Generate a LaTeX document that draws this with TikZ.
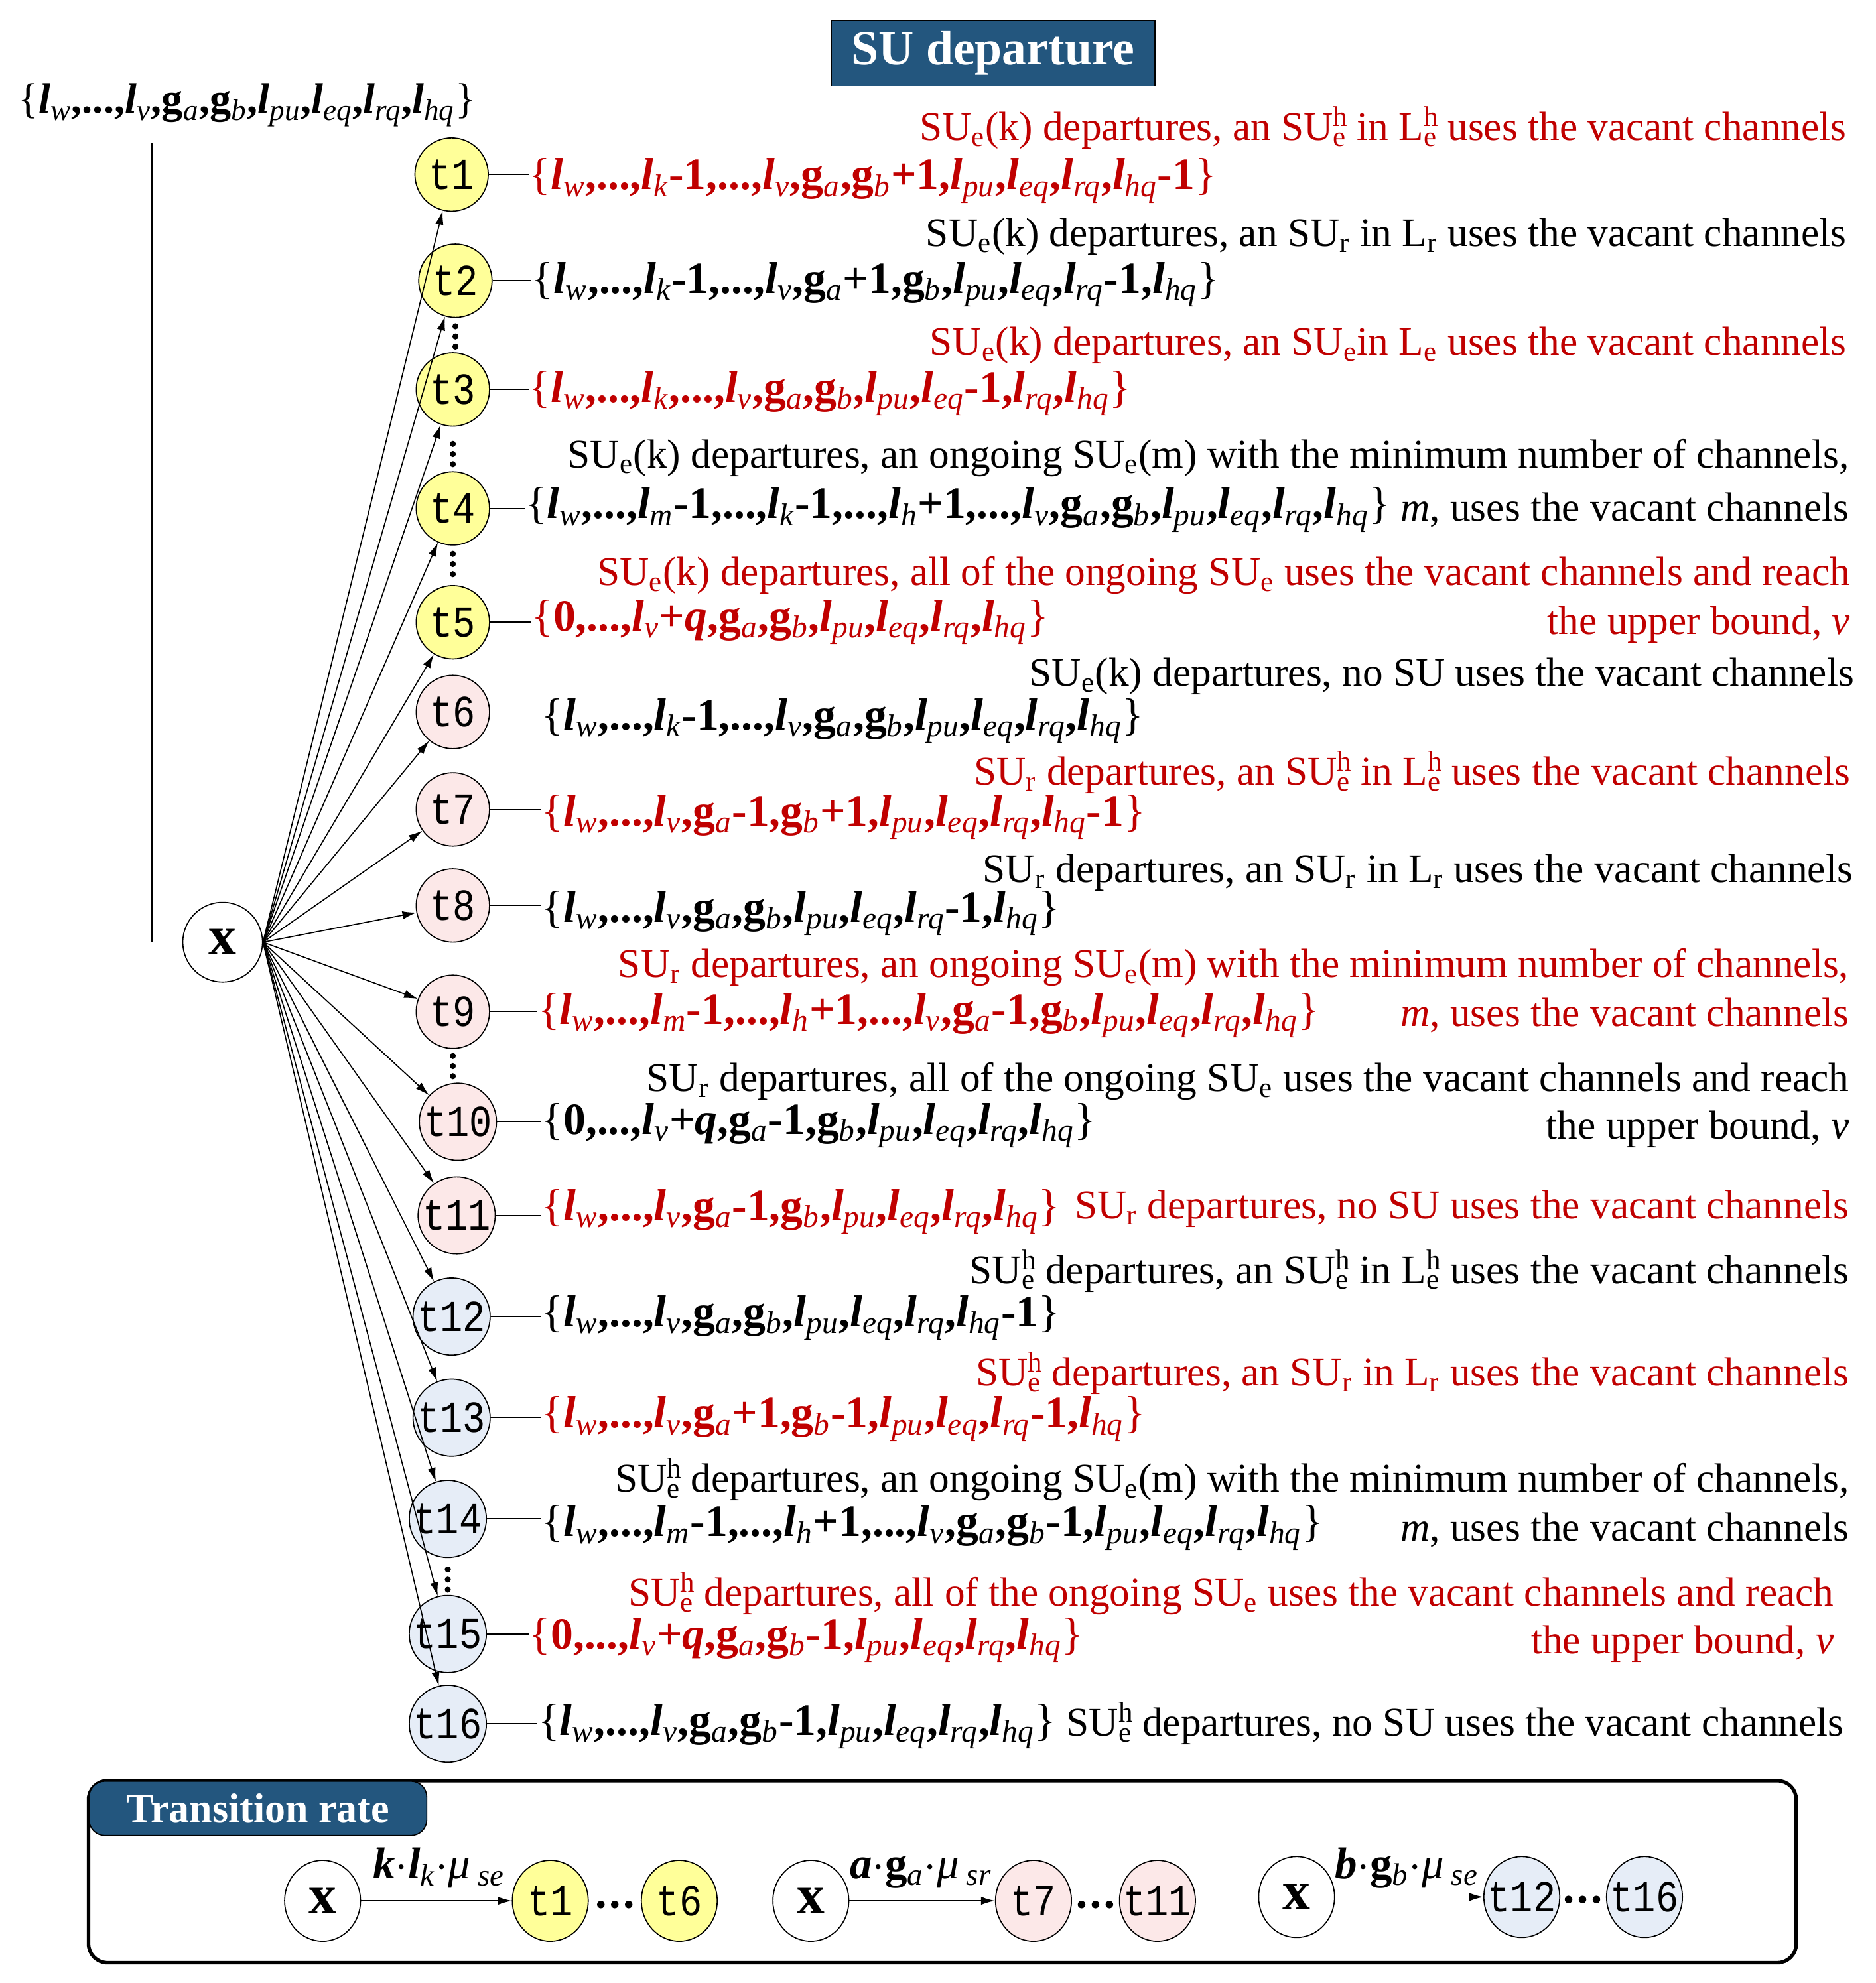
\documentclass[tikz,border=0pt]{standalone}
\usepackage{fontspec}
\setmainfont{Liberation Serif}
\newfontfamily\tfont[FakeStretch=0.85]{Liberation Mono}
\usetikzlibrary{arrows.meta,shapes.geometric}
\definecolor{dred}{RGB}{192,0,0}
\definecolor{tyel}{RGB}{255,255,153}
\definecolor{tpink}{RGB}{252,232,232}
\definecolor{tblue}{RGB}{230,237,247}
\definecolor{hblue}{RGB}{35,86,126}
\newcommand\sbs[1]{\textsubscript{\normalfont\itshape #1}}
\newcommand\Ls[1]{\textit{l}\sbs{#1}}
\newcommand\Gs[1]{g\sbs{#1}}
\newcommand\LB{{\mdseries\{}}
\newcommand\RB{{\mdseries\}}}
\newcommand\Sub[1]{\textsubscript{#1}}
\newcommand\SH{\makebox[0pt][l]{\textsuperscript{h}}\textsubscript{e}}
\newcommand\zb[1]{\makebox[0pt]{#1}}
\tikzset{
  tn/.style={circle,draw=black,line width=0.5pt,inner sep=0pt,minimum size=1.16cm,font=\tfont\fontsize{20}{20}\selectfont},
  tw/.style={tn,minimum size=1.22cm},
  yl/.style={fill=tyel},
  pk/.style={fill=tpink},
  bl/.style={fill=tblue},
  xn/.style={circle,draw=black,line width=0.5pt,inner sep=0pt,minimum size=1.26cm,font=\bfseries\fontsize{25}{25}\selectfont},
  be/.style={ellipse,draw=black,line width=0.5pt,inner sep=0pt,minimum width=1.2cm,minimum height=1.28cm,font=\tfont\fontsize{20}{20}\selectfont},
  bx/.style={be,font=\bfseries\fontsize{25}{25}\selectfont},
  desc/.style={anchor=east,inner sep=0pt,font=\fontsize{18.3}{22}\selectfont},
  state/.style={anchor=west,inner sep=0pt,font=\bfseries\fontsize{20.2}{24}\selectfont},
  red/.style={text=dred},
  arr/.style={-{Latex[length=2.2mm,width=1.3mm]},line width=0.5pt},
  ln/.style={line width=0.5pt},
  rate/.style={inner sep=0pt,font=\fontsize{20}{24}\selectfont},
}
\begin{document}
\begin{tikzpicture}[x=0.02cm,y=-0.02cm]
\useasboundingbox (0,0) rectangle (1483,1568);
% title
\node[fill=hblue,draw=black,text=white,font=\bfseries\fontsize{22}{24}\selectfont,minimum width=5.12cm,minimum height=1.04cm,inner sep=0pt] (title) at (785,42) {SU departure};
% top state
\node[state,font=\bfseries\fontsize{19.2}{23}\selectfont] (top) at (14,83) {\LB\Ls{w},...,\Ls{v},\Gs{a},\Gs{b},\Ls{pu},\Ls{eq},\Ls{rq},\Ls{hq}\RB};
\node[xn] (X) at (176,745) {x};
\coordinate (c0) at (120,113);
\draw[ln] (c0) |- (X.west);
% t nodes
\node[tn,yl] (t1) at (357,138) {\zb{t1}};
\node[tn,yl] (t2) at (360,222) {\zb{t2}};
\node[tn,yl] (t3) at (358,308) {\zb{t3}};
\node[tn,yl] (t4) at (358,402) {\zb{t4}};
\node[tn,yl] (t5) at (358,492) {\zb{t5}};
\node[tn,pk] (t6) at (358,563) {\zb{t6}};
\node[tn,pk] (t7) at (358,640) {\zb{t7}};
\node[tn,pk] (t8) at (358,716) {\zb{t8}};
\node[tn,pk] (t9) at (358,800) {\zb{t9}};
\node[tw,pk] (t10) at (362,887) {\zb{t10}};
\node[tw,pk] (t11) at (361,961) {\zb{t11}};
\node[tw,bl] (t12) at (357,1041) {\zb{t12}};
\node[tw,bl] (t13) at (357,1121) {\zb{t13}};
\node[tw,bl] (t14) at (354,1201) {\zb{t14}};
\node[tw,bl] (t15) at (354,1292) {\zb{t15}};
\node[tw,bl] (t16) at (354,1363) {\zb{t16}};
\foreach \i in {1,...,16} {\draw[arr] (X.east) -- (t\i);}
% vertical dots
\foreach \x/\y in {360/258,358/351,358/438,358/835,354/1241}{
  \foreach \d in {0,8,16}{\fill (\x,\y+\d) circle (2.4);}
}
% states
\node[state,red] (s1) at (418,143) {\LB\Ls{w},...,\Ls{k}-1,...,\Ls{v},\Gs{a},\Gs{b}+1,\Ls{pu},\Ls{eq},\Ls{rq},\Ls{hq}-1\RB};
\node[state] (s2) at (420,225) {\LB\Ls{w},...,\Ls{k}-1,...,\Ls{v},\Gs{a}+1,\Gs{b},\Ls{pu},\Ls{eq},\Ls{rq}-1,\Ls{hq}\RB};
\node[state,red] (s3) at (418,311) {\LB\Ls{w},...,\Ls{k},...,\Ls{v},\Gs{a},\Gs{b},\Ls{pu},\Ls{eq}-1,\Ls{rq},\Ls{hq}\RB};
\node[state] (s4) at (415,403) {\LB\Ls{w},...,\Ls{m}-1,...,\Ls{k}-1,...,\Ls{h}+1,...,\Ls{v},\Gs{a},\Gs{b},\Ls{pu},\Ls{eq},\Ls{rq},\Ls{hq}\RB};
\node[state,red] (s5) at (420,492) {\LB 0,...,\Ls{v}+\textit{q},\Gs{a},\Gs{b},\Ls{pu},\Ls{eq},\Ls{rq},\Ls{hq}\RB};
\node[state] (s6) at (428,570) {\LB\Ls{w},...,\Ls{k}-1,...,\Ls{v},\Gs{a},\Gs{b},\Ls{pu},\Ls{eq},\Ls{rq},\Ls{hq}\RB};
\node[state,red] (s7) at (428,646) {\LB\Ls{w},...,\Ls{v},\Gs{a}-1,\Gs{b}+1,\Ls{pu},\Ls{eq},\Ls{rq},\Ls{hq}-1\RB};
\node[state] (s8) at (428,722) {\LB\Ls{w},...,\Ls{v},\Gs{a},\Gs{b},\Ls{pu},\Ls{eq},\Ls{rq}-1,\Ls{hq}\RB};
\node[state,red] (s9) at (425,803) {\LB\Ls{w},...,\Ls{m}-1,...,\Ls{h}+1,...,\Ls{v},\Gs{a}-1,\Gs{b},\Ls{pu},\Ls{eq},\Ls{rq},\Ls{hq}\RB};
\node[state] (s10) at (428,890) {\LB 0,...,\Ls{v}+\textit{q},\Gs{a}-1,\Gs{b},\Ls{pu},\Ls{eq},\Ls{rq},\Ls{hq}\RB};
\node[state,red] (s11) at (428,958) {\LB\Ls{w},...,\Ls{v},\Gs{a}-1,\Gs{b},\Ls{pu},\Ls{eq},\Ls{rq},\Ls{hq}\RB};
\node[state] (s12) at (428,1042) {\LB\Ls{w},...,\Ls{v},\Gs{a},\Gs{b},\Ls{pu},\Ls{eq},\Ls{rq},\Ls{hq}-1\RB};
\node[state,red] (s13) at (428,1122) {\LB\Ls{w},...,\Ls{v},\Gs{a}+1,\Gs{b}-1,\Ls{pu},\Ls{eq},\Ls{rq}-1,\Ls{hq}\RB};
\node[state] (s14) at (428,1208) {\LB\Ls{w},...,\Ls{m}-1,...,\Ls{h}+1,...,\Ls{v},\Gs{a},\Gs{b}-1,\Ls{pu},\Ls{eq},\Ls{rq},\Ls{hq}\RB};
\node[state,red] (s15) at (418,1297) {\LB 0,...,\Ls{v}+\textit{q},\Gs{a},\Gs{b}-1,\Ls{pu},\Ls{eq},\Ls{rq},\Ls{hq}\RB};
\node[state] (s16) at (425,1365) {\LB\Ls{w},...,\Ls{v},\Gs{a},\Gs{b}-1,\Ls{pu},\Ls{eq},\Ls{rq},\Ls{hq}\RB};
\foreach \i in {1,...,16} {\draw[ln] (t\i.east) -- (t\i.east -| s\i.west);}
% descriptions
\node[desc,red] (d1) at (1460,101) {SU\Sub{e}(k) departures, an SU\SH{} in L\SH{} uses the vacant channels};
\node[desc] (d2) at (1460,187) {SU\Sub{e}(k) departures, an SU\Sub{r} in L\Sub{r} uses the vacant channels};
\node[desc,red] (d3) at (1460,273) {SU\Sub{e}(k) departures, an SU\Sub{e}in L\Sub{e} uses the vacant channels};
\node[desc] (d4) at (1462,362) {SU\Sub{e}(k) departures, an ongoing SU\Sub{e}(m) with the minimum number of channels,};
\node[desc] (d4b) at (1462,403) {\textit{m}, uses the vacant channels};
\node[desc,red] (d5) at (1463,455) {SU\Sub{e}(k) departures, all of the ongoing SU\Sub{e} uses the vacant channels and reach};
\node[desc,red] (d5b) at (1463,494) {the upper bound, \textit{v}};
\node[desc] (d6) at (1466,535) {SU\Sub{e}(k) departures, no SU uses the vacant channels};
\node[desc,red] (d7) at (1463,611) {SU\Sub{r} departures, an SU\SH{} in L\SH{} uses the vacant channels};
\node[desc] (d8) at (1465,690) {SU\Sub{r} departures, an SU\Sub{r} in L\Sub{r} uses the vacant channels};
\node[desc,red] (d9) at (1462,765) {SU\Sub{r} departures, an ongoing SU\Sub{e}(m) with the minimum number of channels,};
\node[desc,red] (d9b) at (1462,803) {\textit{m}, uses the vacant channels};
\node[desc] (d10) at (1462,855) {SU\Sub{r} departures, all of the ongoing SU\Sub{e} uses the vacant channels and reach};
\node[desc] (d10b) at (1462,893) {the upper bound, \textit{v}};
\node[desc,red] (d11) at (1462,956) {SU\Sub{r} departures, no SU uses the vacant channels};
\node[desc] (d12) at (1462,1005) {SU\SH{} departures, an SU\SH{} in L\SH{} uses the vacant channels};
\node[desc,red] (d13) at (1462,1086) {SU\SH{} departures, an SU\Sub{r} in L\Sub{r} uses the vacant channels};
\node[desc] (d14) at (1462,1170) {SU\SH{} departures, an ongoing SU\Sub{e}(m) with the minimum number of channels,};
\node[desc] (d14b) at (1462,1210) {\textit{m}, uses the vacant channels};
\node[desc,red] (d15) at (1450,1260) {SU\SH{} departures, all of the ongoing SU\Sub{e} uses the vacant channels and reach};
\node[desc,red] (d15b) at (1450,1300) {the upper bound, \textit{v}};
\node[desc] (d16) at (1458,1363) {SU\SH{} departures, no SU uses the vacant channels};
% transition rate box
\draw[line width=1.6pt,rounded corners=0.3cm] (70,1408) rectangle (1420,1552);
\node[fill=hblue,draw=black,line width=0.5pt,rounded corners=0.25cm,minimum width=5.34cm,minimum height=0.86cm,anchor=north west,inner sep=0pt,text=white,font=\bfseries\fontsize{18.5}{20}\selectfont] (tab) at (70,1408) {Transition rate};
\node[bx] (bx1) at (255,1503) {x};
\node[be,yl] (bt1) at (435,1503) {\zb{t1}};
\node[be,yl] (bt6) at (537,1503) {\zb{t6}};
\node[bx] (bx2) at (641,1503) {x};
\node[be,pk] (bt7) at (817,1503) {\zb{t7}};
\node[be,pk] (bt11) at (915,1503) {\zb{t11}};
\node[bx] (bx3) at (1025,1500) {x};
\node[be,bl] (bt12) at (1203,1500) {\zb{t12}};
\node[be,bl] (bt16) at (1300,1500) {\zb{t16}};
\draw[arr] (bx1) -- (bt1);
\draw[arr] (bx2) -- (bt7);
\draw[arr] (bx3) -- (bt12);
\foreach \x/\y in {475/1506,855/1506,1240/1502}{
  \foreach \d in {0,11,22}{\fill (\x+\d,\y) circle (3);}
}
\node[rate] (r1) at (347,1477) {\textbf{\textit{k}}$\cdot$\textbf{\textit{l}}\sbs{k}$\cdot$\textit{μ}\,\sbs{se}};
\node[rate] (r2) at (728,1480) {\textbf{\textit{a}}$\cdot$\textbf{g}\sbs{a}$\cdot$\textit{μ}\,\sbs{sr}};
\node[rate] (r3) at (1112,1477) {\textbf{\textit{b}}$\cdot$\textbf{g}\sbs{b}$\cdot$\textit{μ}\,\sbs{se}};
\end{tikzpicture}
\end{document}
